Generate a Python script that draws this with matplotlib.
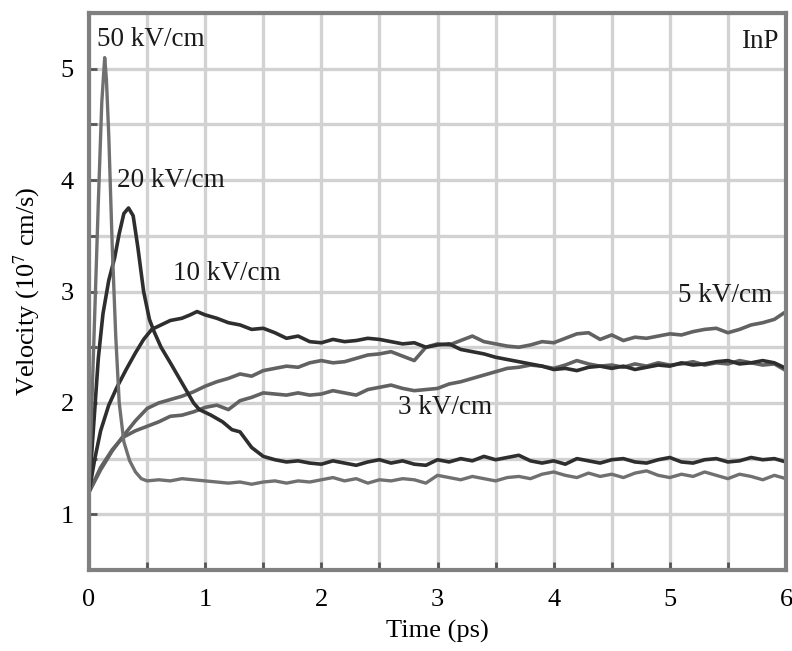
import matplotlib.pyplot as plt
import numpy as np

plt.rcParams['font.family'] = ['Liberation Serif', 'DejaVu Serif']
plt.rcParams['mathtext.fontset'] = 'stix'

# common sampling time for the flat tails (ps)
def tail(start):
    return list(np.round(np.arange(start, 6.001, 0.1), 2))

# 50 kV/cm
t50 = [0, 0.04, 0.08, 0.11, 0.135, 0.15, 0.17, 0.2, 0.23, 0.26, 0.3, 0.35, 0.4, 0.45] + tail(0.5)
v50 = [1.2, 2.5, 3.8, 4.7, 5.1, 4.9, 4.4, 3.4, 2.6, 2.0, 1.65, 1.48, 1.38, 1.32,
       1.30, 1.31, 1.30, 1.32, 1.31, 1.30, 1.29, 1.28, 1.29, 1.27, 1.29, 1.30, 1.28, 1.30,
       1.29, 1.31, 1.33, 1.30, 1.32, 1.28, 1.31, 1.30, 1.32, 1.31, 1.28, 1.35, 1.33, 1.31,
       1.34, 1.32, 1.30, 1.33, 1.34, 1.32, 1.36, 1.38, 1.35, 1.33, 1.37, 1.34, 1.36, 1.33,
       1.37, 1.39, 1.35, 1.33, 1.36, 1.34, 1.38, 1.35, 1.32, 1.36, 1.34, 1.31, 1.35, 1.32]

# 20 kV/cm
t20 = [0, 0.04, 0.08, 0.12, 0.17, 0.22, 0.26, 0.3, 0.34, 0.38, 0.42, 0.47, 0.52, 0.56,
       0.62, 0.7, 0.8, 0.9, 0.95, 1.05, 1.15, 1.23, 1.3, 1.4, 1.5] + tail(1.6)
v20 = [1.2, 1.8, 2.4, 2.8, 3.1, 3.3, 3.52, 3.7, 3.75, 3.68, 3.4, 3.0, 2.75, 2.64,
       2.5, 2.36, 2.18, 2.0, 1.94, 1.89, 1.83, 1.76, 1.74, 1.6, 1.52,
       1.49, 1.47, 1.48, 1.46, 1.45, 1.48, 1.46, 1.44, 1.47, 1.49, 1.46, 1.48, 1.45, 1.44,
       1.49, 1.47, 1.50, 1.48, 1.52, 1.49, 1.51, 1.53, 1.48, 1.46, 1.48, 1.45, 1.50, 1.48,
       1.46, 1.49, 1.50, 1.47, 1.46, 1.49, 1.51, 1.47, 1.46, 1.49, 1.50, 1.47, 1.48, 1.51,
       1.49, 1.50, 1.47]

# 10 kV/cm
t10 = [0, 0.05, 0.1, 0.17, 0.24, 0.32, 0.4, 0.47, 0.54, 0.62, 0.7, 0.8, 0.87, 0.93, 1.0] + tail(1.1)
v10 = [1.2, 1.5, 1.75, 1.98, 2.14, 2.3, 2.45, 2.57, 2.66, 2.7, 2.74, 2.76, 2.79, 2.82, 2.79,
       2.76, 2.72, 2.70, 2.66, 2.67, 2.63, 2.58, 2.60, 2.55, 2.54, 2.57, 2.55, 2.56, 2.58,
       2.57, 2.55, 2.53, 2.54, 2.50, 2.52, 2.53, 2.48, 2.46, 2.44, 2.41, 2.39, 2.37, 2.35,
       2.33, 2.30, 2.31, 2.29, 2.32, 2.33, 2.31, 2.33, 2.30, 2.32, 2.34, 2.33, 2.36, 2.34,
       2.35, 2.37, 2.38, 2.35, 2.36, 2.38, 2.36, 2.31]

# 5 kV/cm
t5 = [0, 0.1, 0.2, 0.3, 0.4, 0.5, 0.6, 0.7, 0.8, 0.9, 1.0] + tail(1.1)
v5 = [1.2, 1.4, 1.57, 1.71, 1.84, 1.95, 2.0, 2.03, 2.06, 2.10, 2.15,
      2.19, 2.22, 2.26, 2.24, 2.29, 2.31, 2.33, 2.32, 2.36, 2.38, 2.36, 2.37, 2.40, 2.43,
      2.44, 2.46, 2.42, 2.38, 2.50, 2.53, 2.52, 2.56, 2.60, 2.55, 2.53, 2.51, 2.50, 2.52,
      2.55, 2.54, 2.58, 2.62, 2.63, 2.57, 2.61, 2.56, 2.59, 2.58, 2.60, 2.62, 2.61, 2.64,
      2.66, 2.67, 2.63, 2.66, 2.70, 2.72, 2.75, 2.82]

# 3 kV/cm
t3 = [0, 0.1, 0.2, 0.29, 0.4, 0.5, 0.6, 0.7, 0.8, 0.9, 1.0] + tail(1.1)
v3 = [1.2, 1.42, 1.58, 1.69, 1.75, 1.79, 1.83, 1.88, 1.89, 1.92, 1.96,
      1.98, 1.94, 2.02, 2.05, 2.09, 2.08, 2.07, 2.09, 2.07, 2.08, 2.11, 2.09, 2.07, 2.12,
      2.14, 2.16, 2.13, 2.11, 2.12, 2.13, 2.17, 2.19, 2.22, 2.25, 2.28, 2.31, 2.32, 2.34,
      2.33, 2.31, 2.34, 2.38, 2.35, 2.33, 2.34, 2.32, 2.35, 2.33, 2.36, 2.34, 2.35, 2.37,
      2.34, 2.36, 2.35, 2.38, 2.36, 2.34, 2.35, 2.29]

fig = plt.figure(figsize=(7.92, 6.51), dpi=100)
ax = fig.add_axes([0.1124, 0.1244, 0.8800, 0.8556])

ax.plot(t5, v5, color='#626262', lw=2.6)
ax.plot(t3, v3, color='#626262', lw=2.6)
ax.plot(t10, v10, color='#2e2e2e', lw=2.6)
ax.plot(t20, v20, color='#2e2e2e', lw=2.6)
ax.plot(t50, v50, color='#707070', lw=2.4)

ax.set_xlim(0, 6)
ax.set_ylim(0.5, 5.5)
ax.set_xticks(range(0, 7))
ax.set_yticks(range(1, 6))
ax.set_xticks(np.arange(0.5, 6, 1), minor=True)
ax.set_yticks(np.arange(0.5, 5.6, 1), minor=True)
ax.grid(True, which='both', color='#d2d2d2', lw=2.4)
ax.set_axisbelow(True)
ax.tick_params(which='both', direction='in', length=6, width=2, color='#555555',
               top=False, right=False, labelsize=19)
ax.tick_params(axis='x', pad=14)
ax.tick_params(axis='y', pad=11)
for s in ax.spines.values():
    s.set_color('#808080')
    s.set_linewidth(3)

ax.set_xlabel('Time (ps)', fontsize=19, labelpad=6)
ax.set_ylabel('Velocity (10$^{7}$ cm/s)', fontsize=19, labelpad=13)

lab = dict(fontsize=19.5, va='center', ha='left', color='#1a1a1a')
ax.text(0.07, 5.26, '50 kV/cm', **lab)
ax.text(0.24, 4.0, '20 kV/cm', **lab)
ax.text(0.72, 3.16, '10 kV/cm', **lab)
ax.text(5.07, 2.96, '5 kV/cm', **lab)
ax.text(2.66, 1.96, '3 kV/cm', **lab)
ax.text(5.94, 5.24, 'InP', fontsize=19.5, va='center', ha='right', color='#1a1a1a')

fig.savefig('out.png', dpi=100)
